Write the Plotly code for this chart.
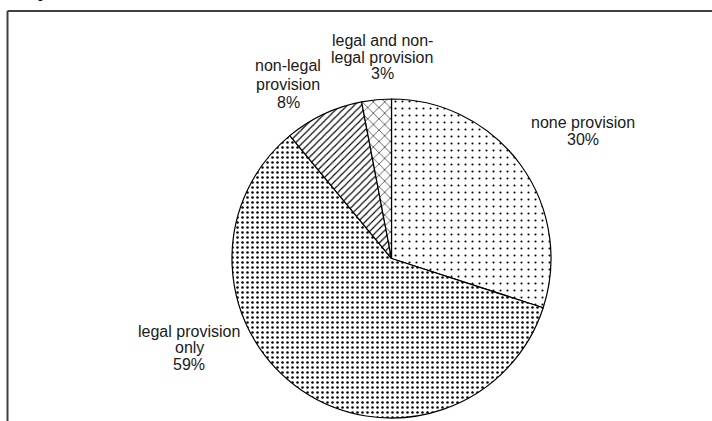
import plotly.graph_objects as go

# ---- data ----
categories = ["none provision", "legal provision only", "non-legal provision", "legal and non-legal provision"]
shares = [30, 59, 8, 3]
label_text_lines = [
    ["none provision"],
    ["legal provision", "only"],
    ["non-legal", "provision"],
    ["legal and non-", "legal provision"],
]

W, H = 712, 421

# ---- layout helpers (pixel positions of label blocks: centre x, first-line y, line step) ----
label_pos = [(583, 122, 17.5), (189, 331, 16.5), (288, 66, 18), (382, 41, 16)]
patterns = dict(
    shape=[".", ".", "/", "x"],
    size=[7, 5, 5, 8],
    solidity=[0.07, 0.2, 0.22, 0.14],
    fgcolor="#000000",
    bgcolor="#ffffff",
)

fig = go.Figure(
    go.Pie(
        labels=categories,
        values=shares,
        sort=False,
        direction="clockwise",
        rotation=0,
        textinfo="none",
        hoverinfo="label+percent",
        showlegend=False,
        marker=dict(
            colors=["#ffffff"] * len(shares),
            line=dict(color="#000000", width=1.2),
            pattern=patterns,
        ),
        domain=dict(x=[232 / W, 551 / W], y=[1 - 420 / H, 1 - 97 / H]),
    )
)

annotations = []
font = dict(family="Liberation Sans, Arial, sans-serif", size=16, color="#1a1a1a")
for lines, v, (cx, y0, step) in zip(label_text_lines, shares, label_pos):
    all_lines = lines + [f"{v}%"]
    for i, t in enumerate(all_lines):
        annotations.append(
            dict(
                text=t, x=cx / W, y=1 - (y0 + i * step) / H,
                xref="paper", yref="paper", xanchor="center", yanchor="middle",
                showarrow=False, font=font,
            )
        )

# cut-off document text above the chart frame (only its lowest part is visible)
annotations.append(
    dict(
        text="provisions.", x=36 / W, y=1 - 3 / H, xref="paper", yref="paper",
        xanchor="left", yanchor="bottom", showarrow=False,
        font=dict(family="Liberation Serif, Times New Roman, serif", size=19, color="#000000"),
    )
)

shapes = [
    dict(type="line", xref="paper", yref="paper", x0=7.5 / W, x1=1.02, y0=1 - 11 / H, y1=1 - 11 / H,
         line=dict(color="#404040", width=2)),
    dict(type="line", xref="paper", yref="paper", x0=7.5 / W, x1=7.5 / W, y0=1 - 11 / H, y1=-0.02,
         line=dict(color="#404040", width=2)),
]

fig.update_layout(
    width=W, height=H,
    margin=dict(l=0, r=0, t=0, b=0),
    paper_bgcolor="#ffffff", plot_bgcolor="#ffffff",
    annotations=annotations, shapes=shapes,
)

fig.write_html("out.html", config={"displayModeBar": False})
